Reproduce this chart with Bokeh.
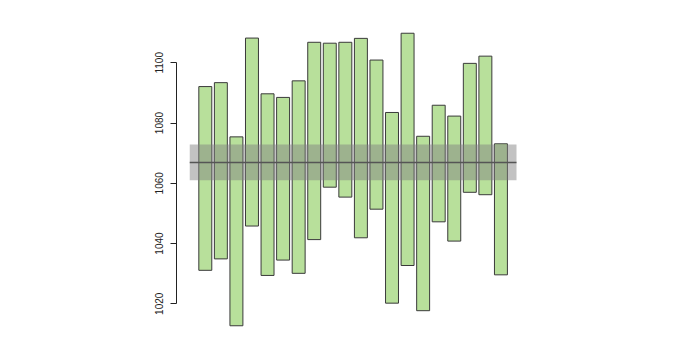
from bokeh.plotting import figure
from bokeh.models import Range1d, FixedTicker, ColumnDataSource
from bokeh.embed import file_html
from bokeh.resources import INLINE

# ---- data ----
bar_index = list(range(1, 21))
bar_high = [1092.1, 1093.4, 1075.4, 1108.2, 1089.7, 1088.5, 1094.0, 1106.8, 1106.5, 1106.8,
            1108.1, 1100.9, 1083.5, 1109.8, 1075.6, 1085.9, 1082.3, 1099.8, 1102.2, 1073.1]
bar_low = [1031.1, 1034.9, 1012.7, 1045.8, 1029.4, 1034.5, 1030.1, 1041.3, 1058.7, 1055.4,
           1041.9, 1051.4, 1020.2, 1032.7, 1017.7, 1047.2, 1040.8, 1057.0, 1056.2, 1029.6]
mean_value = 1066.9
band_low = 1061.0
band_high = 1072.9
y_ticks = [1020, 1040, 1060, 1080, 1100]

n = len(bar_index)

p = figure(width=680, height=360, output_backend="svg", toolbar_location=None,
           x_range=Range1d(-0.851, 21.9), y_range=Range1d(1008.8, 1113.7),
           min_border_left=176, min_border_right=150, min_border_top=21, min_border_bottom=23)
p.xaxis.visible = False
p.xgrid.visible = False
p.ygrid.visible = False
p.outline_line_color = None
p.background_fill_color = "white"
p.border_fill_color = "white"

src = ColumnDataSource(dict(x=bar_index, top=bar_high, bottom=bar_low))
p.vbar(x="x", top="top", bottom="bottom", width=0.833, source=src,
       fill_color="#b8e09b", line_color="#3a3a3a", line_width=1)

p.quad(left=[0], right=[n + 1], bottom=[band_low], top=[band_high],
       fill_color="#808080", fill_alpha=0.48, line_color=None)
p.segment(x0=[0], x1=[n + 1], y0=[mean_value], y1=[mean_value],
          line_color="#555555", line_width=1.5)

ax = p.yaxis[0]
ax.ticker = FixedTicker(ticks=y_ticks)
ax.bounds = (y_ticks[0], y_ticks[-1])
ax.major_label_orientation = "vertical"
ax.minor_tick_line_color = None
ax.major_tick_in = 0
ax.major_tick_out = 6
ax.major_label_standoff = 7
ax.axis_line_color = "#222222"
ax.major_tick_line_color = "#222222"
ax.major_label_text_font = "Liberation Sans"
ax.major_label_text_font_size = "10px"
ax.major_label_text_color = "#222222"

open("out.html", "w").write(file_html(p, INLINE))
